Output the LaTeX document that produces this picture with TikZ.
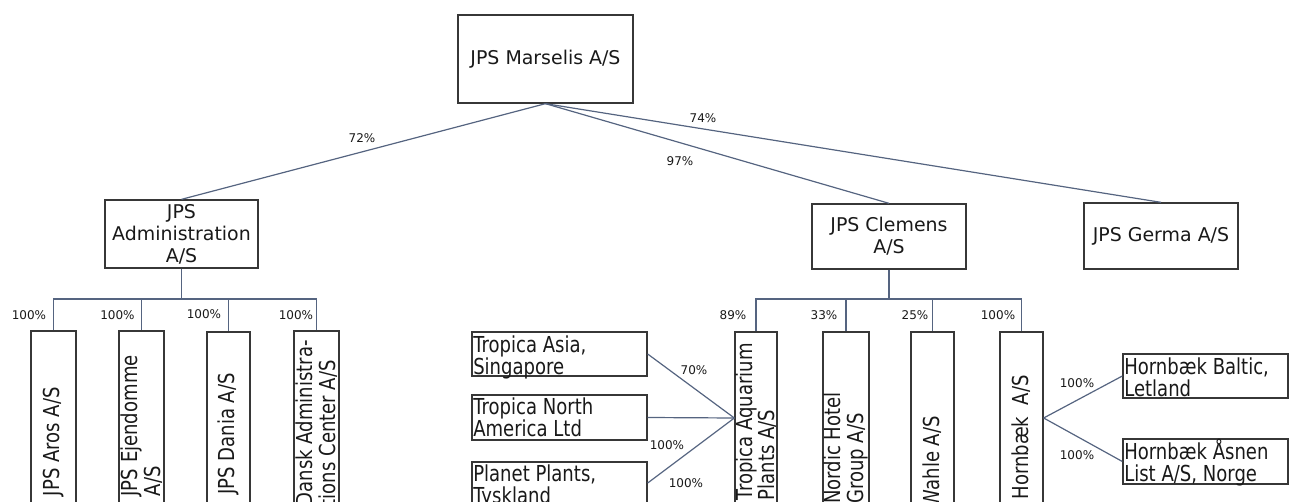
\documentclass[tikz,border=0pt]{standalone}
\usepackage{fontspec}
\setmainfont{DejaVu Sans}
\newfontfamily\nrwfam[FakeStretch=0.82]{DejaVu Sans}
\usetikzlibrary{fit}
\definecolor{linec}{RGB}{85,100,128}
\definecolor{boxc}{RGB}{55,55,55}
\definecolor{txtc}{RGB}{25,25,25}
\newcommand\nrwfont{\nrwfam\fontsize{16.5}{16.8}\selectfont}
\newcommand\bigfont{\fontsize{14.2}{16.5}\selectfont}
\newcommand\pctfont{\fontsize{9}{10}\selectfont}
\begin{document}
\begin{tikzpicture}[x=0.75pt,y=-0.75pt,
  box/.style={draw=boxc,line width=1pt,inner sep=0pt,font=\bigfont,text=txtc,align=center},
  conn/.style={draw=linec,line width=0.9pt},
  pct/.style={font=\pctfont,text=txtc,inner sep=0pt},
  htext/.style={font=\nrwfont,text=txtc,inner sep=0pt,align=left,anchor=north west},
  vtext/.style={font=\nrwfont,text=txtc,inner sep=0pt,align=left,rotate=90,anchor=east}]
\useasboundingbox (0,0) rectangle (1289,502);
\clip (0,0) rectangle (1289,502);

% top level
\node[box,minimum width=131.25pt,minimum height=66pt] (mars) at (545.5,59) {JPS Marselis A/S};
\node[box,minimum width=114.75pt,minimum height=51pt] (adm) at (181.5,234) {JPS\\Administration\\A/S};
\node[box,minimum width=115.5pt,minimum height=48.75pt] (clem) at (889,236.5) {JPS Clemens\\A/S};
\node[box,minimum width=115.5pt,minimum height=49.5pt] (germa) at (1161,236) {JPS Germa A/S};

\draw[conn] (mars.south) -- (adm.north);
\draw[conn] (mars.south) -- (clem.north);
\draw[conn] (mars.south) -- (germa.north);
\node[pct] (p72) at (362,138) {72\%};
\node[pct] (p97) at (680,161) {97\%};
\node[pct] (p74) at (703,118) {74\%};

% left subtree
\node[box,fit={(31,331) (76,504)}] (aros) {};
\node[box,fit={(119,331) (164,504)}] (ejen) {};
\node[box,fit={(207,332) (250,504)}] (dania) {};
\node[box,fit={(294,331) (339,504)}] (dansk) {};
\node[vtext] (arosT) at (53.5,387) {JPS Aros A/S};
\node[vtext] (ejenT) at (141.5,355) {JPS Ejendomme\\A/S};
\node[vtext] (daniaT) at (228.5,373) {JPS Dania A/S};
\node[vtext] (danskT) at (316.5,340) {Dansk Administra-\\tions Center A/S};

\coordinate (lbus) at (181.5,299);
\draw[conn] (adm.south) -- (lbus);
\draw[conn] (lbus) -| (aros.north);
\draw[conn] (lbus) -| (ejen.north);
\draw[conn] (lbus) -| (dania.north);
\draw[conn] (lbus) -| (dansk.north);
\node[pct] (pa) at (29,315) {100\%};
\node[pct] (pb) at (117.5,315) {100\%};
\node[pct] (pc) at (204,314) {100\%};
\node[pct] (pd) at (296,315) {100\%};

% right subtree
\node[box,fit={(735,332) (777,504)}] (trop) {};
\node[box,fit={(823,332) (869,504)}] (nordic) {};
\node[box,fit={(911,332) (954,504)}] (wahle) {};
\node[box,fit={(1000,332) (1043,504)}] (hornb) {};
\node[vtext] (tropT) at (756,343) {Tropica Aquarium\\Plants A/S};
\node[vtext] (nordicT) at (846,392) {Nordic Hotel\\Group A/S};
\node[vtext] (wahleT) at (932.5,416) {Wahle A/S};
\node[vtext] (hornbT) at (1021.5,375) {Hornbæk\ \ A/S};

\coordinate (rbus) at (889,299);
\draw[conn] (clem.south) -- (rbus);
\draw[conn] (rbus) -| (trop.north);
\draw[conn] (rbus) -| (nordic.north);
\draw[conn] (rbus) -| (wahle.north);
\draw[conn] (rbus) -| (hornb.north);
\node[pct] (pe) at (733,315) {89\%};
\node[pct] (pf) at (824,315) {33\%};
\node[pct] (pg) at (915,315) {25\%};
\node[pct] (ph) at (998,315) {100\%};

% Tropica subsidiaries
\node[box,fit={(472,332) (647,376)}] (asia) {};
\node[box,fit={(472,395) (647,440)}] (north) {};
\node[box,fit={(472,462) (647,504)}] (planet) {};
\node[htext] (asiaT) at (473,335.3) {Tropica Asia,\\Singapore};
\node[htext] (northT) at (473,397.3) {Tropica North\\America Ltd};
\node[htext] (planetT) at (473,464.3) {Planet Plants,\\Tyskland};
\draw[conn] (asia.east) -- (trop.west);
\draw[conn] (north.east) -- (trop.west);
\draw[conn] (planet.east) -- (trop.west);
\node[pct] (pi) at (694,370) {70\%};
\node[pct] (pj) at (667,445) {100\%};
\node[pct] (pk) at (686,483) {100\%};

% Hornbaek subsidiaries
\node[box,fit={(1123,354) (1288,398)}] (baltic) {};
\node[box,fit={(1123,439) (1288,484)}] (aasnen) {};
\node[htext] (balticT) at (1124,357.3) {Hornbæk Baltic,\\Letland};
\node[htext] (aasnenT) at (1124,438.5) {Hornbæk Åsnen\\List A/S, Norge};
\draw[conn] (hornb.east) -- (baltic.west);
\draw[conn] (hornb.east) -- (aasnen.west);
\node[pct] (pl) at (1077,383) {100\%};
\node[pct] (pm) at (1077,455) {100\%};
\end{tikzpicture}
\end{document}
